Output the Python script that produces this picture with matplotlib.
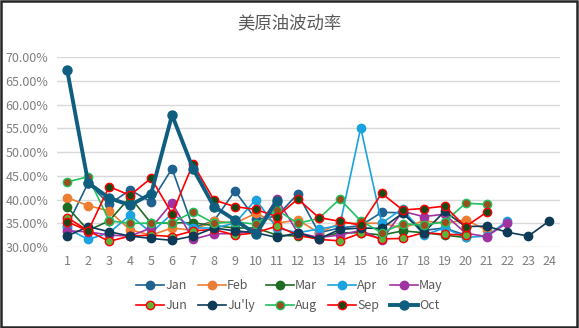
import numpy as np
import matplotlib
matplotlib.use("Agg")
import matplotlib.pyplot as plt
from matplotlib.patches import Rectangle

plt.rcParams['font.family'] = ['Noto Sans CJK SC', 'DejaVu Sans']

days = list(range(1, 25))
months = ["Jan", "Feb", "Mar", "Apr", "May", "Jun", "Ju'ly", "Aug", "Sep", "Oct"]

jan = [34.5, 43.5, 39.0, 42.0, 39.5, 46.5, 34.0, 35.5, 41.8, 35.8, 36.5, 41.2,
       33.0, 34.0, 34.5, 37.3, 37.2, 33.5, 34.0, 32.5]
feb = [40.4, 38.7, 37.6, 33.6, 32.5, 34.0, 33.5, 35.5, 35.0, 37.1, 35.0, 35.7,
       33.0, 35.0, 35.0, 35.0, 34.0, 35.5, 35.0, 35.7, 33.6]
mar = [38.4, 33.5, 35.5, 40.5, 35.0, 35.1, 35.1, 34.5, 34.0, 34.0, 32.5, 32.3,
       32.0, 33.0, 33.0, 32.5, 33.4, 33.0, 32.5, 32.0]
apr = [33.9, 31.6, 33.0, 36.7, 33.0, 37.0, 34.0, 34.0, 35.0, 40.0, 34.0, 33.0,
       33.8, 34.5, 55.1, 35.0, 38.1, 32.5, 34.0, 32.0, 32.3, 35.5]
may = [33.4, 33.2, 32.5, 32.3, 34.0, 39.3, 31.6, 32.8, 32.8, 33.5, 40.2, 33.0,
       32.0, 32.5, 33.5, 31.5, 37.5, 36.4, 36.9, 32.9, 32.2, 35.1]
jun = [36.2, 33.4, 31.2, 32.3, 32.5, 32.2, 33.4, 33.7, 32.5, 33.0, 34.4, 32.5,
       31.6, 31.3, 32.9, 31.7, 31.8, 33.0, 32.7, 32.5]
july = [32.3, 34.3, 33.2, 32.3, 31.8, 31.4, 32.3, 34.0, 33.4, 33.0, 32.0, 33.0,
        31.7, 33.7, 34.0, 33.9, 37.1, 33.0, 37.5, 34.3, 34.4, 33.1, 32.3, 35.5]
aug = [43.7, 44.8, 35.5, 35.0, 35.0, 35.1, 37.4, 35.0, 35.3, 34.8, 37.8, 35.0,
       36.0, 40.1, 35.5, 33.0, 34.9, 34.6, 35.3, 39.2, 39.0]
sep = [35.3, 33.4, 42.7, 40.9, 44.5, 37.0, 47.5, 39.9, 38.5, 37.9, 36.4, 40.1,
       36.2, 35.4, 34.6, 41.3, 37.8, 38.1, 38.6, 34.3, 37.3]
octo = [67.2, 43.5, 40.3, 38.8, 41.2, 57.8, 46.5, 38.5, 35.7, 32.7, 39.7]

series = [jan, feb, mar, apr, may, jun, july, aug, sep, octo]

# line colour, marker face, marker edge, line width
styles = [
    ("#1f6190", "#1f6190", "#1f6190", 1.2),
    ("#ed7d31", "#ed7d31", "#ed7d31", 1.2),
    ("#1e6b24", "#1e6b24", "#1e6b24", 1.2),
    ("#1ba3e0", "#1ba3e0", "#1ba3e0", 1.2),
    ("#a033a0", "#a033a0", "#a033a0", 1.2),
    ("#ff0000", "#5db43a", "#ff0000", 1.2),
    ("#0d3a57", "#0d3a57", "#0d3a57", 1.2),
    ("#22c05e", "#9b4d1d", "#22c05e", 1.2),
    ("#ff0000", "#174a17", "#ff0000", 1.2),
    ("#0f5e80", "#0f5e80", "#0f5e80", 2.8),
]

fig = plt.figure(figsize=(5.79, 3.28), dpi=100)
ax = fig.add_axes([0.098, 0.247, 0.869, 0.579])

handles = []
for name, vals, (lc, fc, ec, lw) in zip(months, series, styles):
    x = days[:len(vals)]
    h, = ax.plot(x, vals, color=lc, lw=lw, marker='o',
                 ms=6.5 if lw > 2 else 6, mfc=fc, mec=ec, mew=1.0, label=name)
    handles.append(h)

ax.set_xlim(0.5, 24.5)
ax.set_ylim(30, 70)
ax.set_xticks(days)
ax.set_yticks(np.arange(30, 71, 5))
ax.set_yticklabels([f"{v:.2f}%" for v in range(30, 71, 5)])
ax.tick_params(length=0, labelsize=9, colors="#7f7f7f", pad=6)
ax.grid(axis='y', color="#d9d9d9", lw=1)
ax.set_axisbelow(True)
for s in ax.spines.values():
    s.set_visible(False)
ax.set_clip_on(False)
for h in handles:
    h.set_clip_on(False)

fig.text(0.5, 0.928, "美原油波动率", ha='center', va='center',
         fontsize=12.5, color="#595959")

order = [0, 5, 1, 6, 2, 7, 3, 8, 4, 9]
fig.legend([handles[i] for i in order], [months[i] for i in order],
           loc='center', bbox_to_anchor=(0.5, 0.098), ncol=5, frameon=False,
           fontsize=9, labelcolor="#595959", handlelength=2.2,
           handletextpad=0.1, columnspacing=0.9, labelspacing=0.55)

fig.add_artist(Rectangle((0.002, 0.004), 0.994, 0.992, transform=fig.transFigure,
                         fill=False, edgecolor="#262626", lw=1.8))

fig.savefig("out.png", dpi=100)
